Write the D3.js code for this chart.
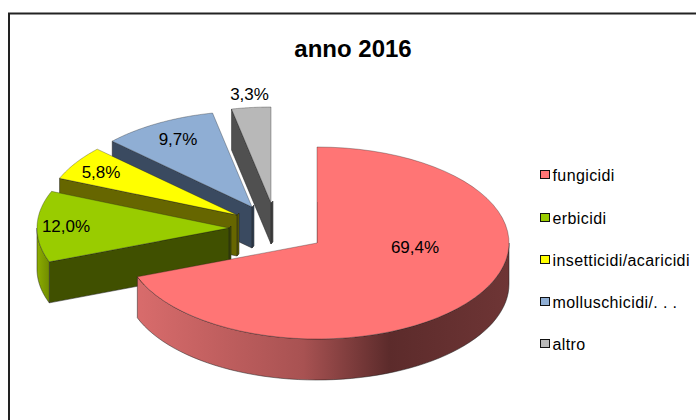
<!DOCTYPE html>
<html><head><meta charset="utf-8">
<script src="https://cdn.jsdelivr.net/npm/d3@7"></script>
<style>html,body{margin:0;background:#fff;overflow:hidden}svg{display:block}text{font-family:"Liberation Sans",Arial,sans-serif;fill:#000}</style>
</head><body><svg id="c" width="696" height="420"></svg>
<script>
const title = "anno 2016";
const categories = ["fungicidi","erbicidi","insetticidi/acaricidi","molluschicidi/. . .","altro"];
const values = [69.4,12.0,5.8,9.7,3.3];
const valueLabels = ["69,4%","12,0%","5,8%","9,7%","3,3%"];
const topColors = ["#ff7575","#99cc00","#ffff00","#8faed4","#b8b8b8"];
const wallColors = ["#6b3333","#405000","#666600","#3a4a60","#505050"];
// layout: centre of every exploded slice
const centres = [[317,243],[229,228],[237,215],[252,207],[271,203]];
const labelPos = [[415,253],[66,232],[101,178],[178,145],[249.5,100]];
const legendYs = [175,218,260,302,344];
const RX=192, RY=96, DEPTH=41;

const svg=d3.select("#c");
svg.append("rect").attr("x",9).attr("y",13.5).attr("width",720).attr("height",440).attr("fill","#fff").attr("stroke","#222").attr("stroke-width",2);
svg.append("text").attr("x",353).attr("y",57).attr("text-anchor","middle").attr("font-size",24).attr("font-weight","bold").text(title);

const defs=svg.append("defs");
const g=defs.append("linearGradient").attr("id","rim").attr("gradientUnits","userSpaceOnUse").attr("x1",135).attr("x2",509).attr("y1",0).attr("y2",0);
[[0,"#d96c6c"],[.45,"#a85252"],[.68,"#5c2b2b"],[1,"#6e3535"]].forEach(s=>g.append("stop").attr("offset",s[0]).attr("stop-color",s[1]));
const g2=defs.append("linearGradient").attr("id","rimG").attr("gradientUnits","userSpaceOnUse").attr("x1",36).attr("x2",50).attr("y1",0).attr("y2",0);
[[0,"#8fb000"],[1,"#6f8a00"]].forEach(s=>g2.append("stop").attr("offset",s[0]).attr("stop-color",s[1]));

const arcs=d3.pie().sort(null)(values);
const line=d3.line();
const pt=(c,a,dz=0)=>[c[0]+RX*Math.sin(a),c[1]-RY*Math.cos(a)+dz];
const rimPts=(c,a0,a1,dz=0)=>d3.range(0,61).map(i=>pt(c,a0+(a1-a0)*i/60,dz));
const draw=(d,fill,so=.7)=>svg.append("path").attr("d",line(d)+"Z").attr("fill",fill).attr("stroke","#1a1a1a").attr("stroke-width",.7).attr("stroke-opacity",so);

[4,3,2,1,0].forEach(i=>{
  const a=arcs[i],c=centres[i],a0=a.startAngle,a1=a.endAngle;
  const apex=[c[0],c[1]],apexB=[c[0],c[1]+DEPTH];
  if(i!==0){draw([apex,apexB,[apexB[0]+2,apexB[1]-2],[apex[0]+2,apex[1]-2]],wallColors[i]);}
  if(i!==0){const s=pt(c,a0);draw([apex,s,[s[0],s[1]+DEPTH],apexB],wallColors[i]);}
  const lo=Math.max(a0,Math.PI/2),hi=Math.min(a1,3*Math.PI/2);
  if(hi>lo){
    draw(rimPts(c,lo,hi).concat(rimPts(c,hi,lo,DEPTH)),i===0?"url(#rim)":i===1?"url(#rimG)":wallColors[i]);
  }
  draw([apex,...rimPts(c,a0,a1)],topColors[i],.45);
  if(i===0){svg.append("line").attr("x1",c[0]+.5).attr("x2",c[0]+.5).attr("y1",c[1]).attr("y2",c[1]-DEPTH).attr("stroke","#b85a5a").attr("stroke-width",1);}
});

valueLabels.forEach((t,i)=>svg.append("text").attr("x",labelPos[i][0]).attr("y",labelPos[i][1]).attr("text-anchor","middle").attr("font-size",17).text(t));

categories.forEach((t,i)=>{
  const y=legendYs[i];
  svg.append("rect").attr("x",540.5).attr("y",y-4.5).attr("width",9).attr("height",8).attr("fill",topColors[i]).attr("stroke","#111").attr("stroke-width",1);
  svg.append("text").attr("x",552.5).attr("y",y+5.5).attr("font-size",16).attr("letter-spacing",.4).text(t);
});
</script></body></html>
